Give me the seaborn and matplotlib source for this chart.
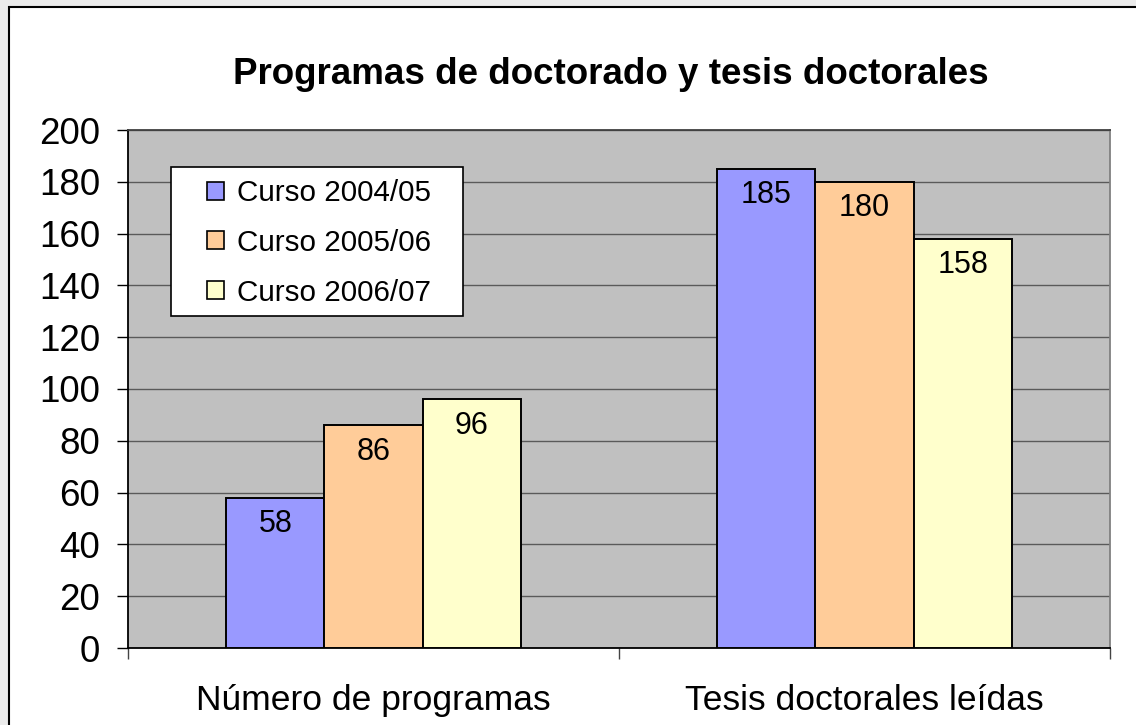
import matplotlib
matplotlib.use("Agg")
import matplotlib.pyplot as plt
import seaborn as sns
import pandas as pd
from matplotlib.patches import Rectangle, Patch

categories = ["Número de programas", "Tesis doctorales leídas"]
series = ["Curso 2004/05", "Curso 2005/06", "Curso 2006/07"]
values_2004 = [58, 185]
values_2005 = [86, 180]
values_2006 = [96, 158]
colors = ["#9999FF", "#FFCC99", "#FFFFCC"]
yticks = [0, 20, 40, 60, 80, 100, 120, 140, 160, 180, 200]

rows = []
for s, vals in zip(series, [values_2004, values_2005, values_2006]):
    for c, v in zip(categories, vals):
        rows.append({"cat": c, "curso": s, "val": v})
df = pd.DataFrame(rows)

sns.set_theme(style="white")
plt.rcParams["font.family"] = ["Liberation Sans", "DejaVu Sans"]
plt.rcParams["text.color"] = "black"
plt.rcParams["xtick.color"] = "black"
plt.rcParams["ytick.color"] = "black"

W, H = 1136, 725
fig = plt.figure(figsize=(W / 100, H / 100), dpi=100)
fig.patch.set_facecolor("#EBEBEB")
# white chart area with black border
fig.add_artist(Rectangle((9 / W, -0.1), 1.2, 1.1 - 7 / H, transform=fig.transFigure,
                         facecolor="white", edgecolor="black", linewidth=1.5, zorder=-5))

ax = fig.add_axes([128 / W, (H - 648) / H, (1110 - 128) / W, (648 - 130) / H])
ax.set_facecolor("#C0C0C0")

sns.barplot(data=df, x="cat", y="val", hue="curso", palette=colors, width=0.6,
            saturation=1, edgecolor="black", linewidth=1.4, ax=ax, legend=False, zorder=3)

ax.set_ylim(0, 200)
ax.set_xlim(-0.5, 1.5)
ax.set_yticks(yticks)
ax.set_yticklabels([str(t) for t in yticks], fontsize=26.5)
ax.yaxis.grid(True, color="#5a5a5a", linewidth=1.0, zorder=1)
ax.set_axisbelow(True)
ax.tick_params(axis="y", direction="out", length=8, width=1, color="black", pad=12, left=True)

ax.set_xticks([0, 1])
ax.set_xticklabels(categories, fontsize=25.5)
ax.tick_params(axis="x", which="major", length=0, pad=26)
ax.set_xticks([-0.5, 0.5, 1.5], minor=True)
ax.tick_params(axis="x", which="minor", direction="out", length=8, width=1, color="#444444", bottom=True)
ax.set_xlabel("")
ax.set_ylabel("")

for side in ["left", "bottom", "top"]:
    ax.spines[side].set_color("black")
    ax.spines[side].set_linewidth(1.3)
ax.spines["right"].set_color("#808080")
ax.spines["right"].set_linewidth(1.3)
ax.spines["top"].set_color("#404040")

for cont in ax.containers:
    for bar in cont:
        h = bar.get_height()
        ax.annotate(f"{h:.0f}", (bar.get_x() + bar.get_width() / 2, h),
                    xytext=(0, -19), textcoords="offset points",
                    ha="center", va="center", fontsize=22, zorder=5)

fig.text(611 / W, 1 - 74 / H, "Programas de doctorado y tesis doctorales",
         ha="center", va="center", fontsize=26.5, fontweight="bold")

# legend box
ax.add_patch(Rectangle((171 / W, 1 - 316 / H), (463 - 171) / W, (316 - 167) / H,
                       transform=fig.transFigure, facecolor="white", edgecolor="black",
                       linewidth=1.2, zorder=6, clip_on=False))
handles = [Patch(facecolor=c, edgecolor="black", linewidth=1.2) for c in colors]
leg = ax.legend(handles, series, loc="upper left",
                bbox_to_anchor=(207 / W, 1 - 179 / H), bbox_transform=fig.transFigure,
                fontsize=21.3, frameon=False, borderaxespad=0,
                handlelength=0.56, handleheight=0.56, handletextpad=0.45,
                labelspacing=0.74, borderpad=0)
leg.set_zorder(7)

fig.savefig("out.png", dpi=100, facecolor=fig.get_facecolor())
